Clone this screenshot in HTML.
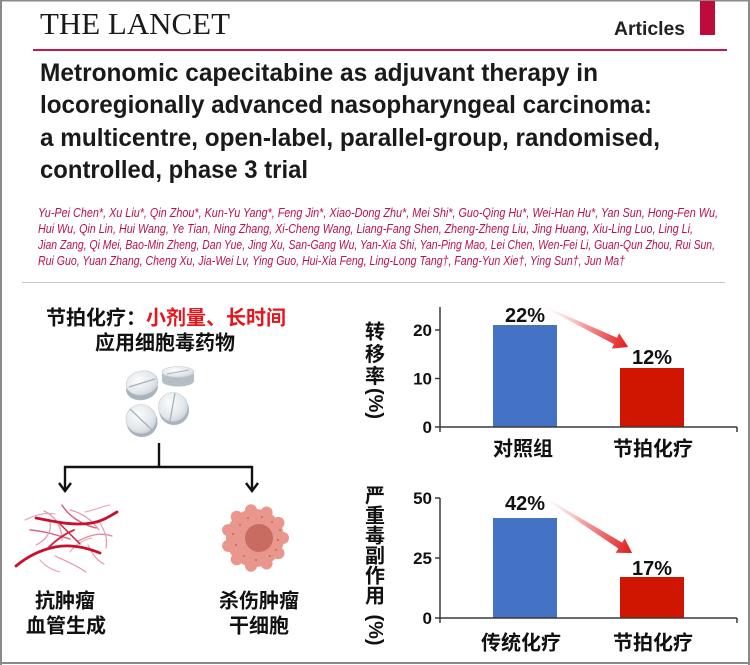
<!DOCTYPE html>
<html>
<head>
<meta charset="utf-8">
<style>
  html,body{margin:0;padding:0;background:#fff;}
  body{width:750px;height:665px;overflow:hidden;}
  svg{display:block;}
  .cjk{font-family:"Liberation Sans","Noto Sans CJK SC",sans-serif;font-weight:bold;}
  .num{font-family:"Liberation Sans",sans-serif;font-weight:bold;}
</style>
</head>
<body>
<svg width="750" height="665" viewBox="0 0 750 665" xmlns="http://www.w3.org/2000/svg">
  <defs>
    <linearGradient id="ag1" gradientUnits="userSpaceOnUse" x1="0" y1="0" x2="90" y2="0">
      <stop offset="0" stop-color="#fde8e8" stop-opacity="0.2"/>
      <stop offset="0.45" stop-color="#f4a0a0"/>
      <stop offset="1" stop-color="#e3191b"/>
    </linearGradient>
    <linearGradient id="ag2" gradientUnits="userSpaceOnUse" x1="0" y1="0" x2="103" y2="0">
      <stop offset="0" stop-color="#fde8e8" stop-opacity="0.2"/>
      <stop offset="0.45" stop-color="#f4a0a0"/>
      <stop offset="1" stop-color="#e3191b"/>
    </linearGradient>
    <radialGradient id="pill" cx="0.4" cy="0.35" r="0.7">
      <stop offset="0" stop-color="#fbfcfd"/>
      <stop offset="0.7" stop-color="#e2e7eb"/>
      <stop offset="1" stop-color="#c9d0d6"/>
    </radialGradient>
  </defs>

  <rect x="0" y="0" width="750" height="665" fill="#fff"/>
  <!-- outer border -->
  <rect x="0" y="0" width="750" height="1.5" fill="#8a8a8a"/>
  <rect x="0" y="0" width="2" height="665" fill="#8a8a8a"/>
  <rect x="748" y="0" width="2" height="665" fill="#8a8a8a"/>
  <rect x="0" y="662" width="750" height="2" fill="#8a8a8a"/>

  <!-- Header -->
  <text x="40" y="34" font-family="Liberation Serif, serif" font-size="31" fill="#1a1a1a" textLength="190" lengthAdjust="spacingAndGlyphs">THE LANCET</text>
  <text x="614" y="35" font-family="Liberation Sans, sans-serif" font-weight="bold" font-size="19" fill="#222" textLength="71" lengthAdjust="spacingAndGlyphs">Articles</text>
  <rect x="700" y="1" width="15" height="34" fill="#bf0a3c"/>
  <rect x="33" y="49" width="694" height="2" fill="#c2184a"/>

  <!-- Title -->
  <g font-family="Liberation Sans, sans-serif" font-weight="bold" font-size="25" fill="#1a1a1a">
    <text x="40" y="81" textLength="558" lengthAdjust="spacingAndGlyphs">Metronomic capecitabine as adjuvant therapy in</text>
    <text x="40" y="113" textLength="612" lengthAdjust="spacingAndGlyphs">locoregionally advanced nasopharyngeal carcinoma:</text>
    <text x="40" y="146" textLength="620" lengthAdjust="spacingAndGlyphs">a multicentre, open-label, parallel-group, randomised,</text>
    <text x="40" y="178" textLength="268" lengthAdjust="spacingAndGlyphs">controlled, phase 3 trial</text>
  </g>

  <!-- Authors -->
  <g font-family="Liberation Sans, sans-serif" font-style="italic" font-size="12.5" fill="#bb1249">
    <text x="38" y="217" textLength="680" lengthAdjust="spacingAndGlyphs">Yu-Pei Chen*, Xu Liu*, Qin Zhou*, Kun-Yu Yang*, Feng Jin*, Xiao-Dong Zhu*, Mei Shi*, Guo-Qing Hu*, Wei-Han Hu*, Yan Sun, Hong-Fen Wu,</text>
    <text x="38" y="233" textLength="655" lengthAdjust="spacingAndGlyphs">Hui Wu, Qin Lin, Hui Wang, Ye Tian, Ning Zhang, Xi-Cheng Wang, Liang-Fang Shen, Zheng-Zheng Liu, Jing Huang, Xiu-Ling Luo, Ling Li,</text>
    <text x="38" y="249" textLength="677" lengthAdjust="spacingAndGlyphs">Jian Zang, Qi Mei, Bao-Min Zheng, Dan Yue, Jing Xu, San-Gang Wu, Yan-Xia Shi, Yan-Ping Mao, Lei Chen, Wen-Fei Li, Guan-Qun Zhou, Rui Sun,</text>
    <text x="38" y="265" textLength="587" lengthAdjust="spacingAndGlyphs">Rui Guo, Yuan Zhang, Cheng Xu, Jia-Wei Lv, Ying Guo, Hui-Xia Feng, Ling-Long Tang†, Fang-Yun Xie†, Ying Sun†, Jun Ma†</text>
  </g>
  <rect x="22" y="282" width="703" height="1" fill="#c8c8c8"/>

  <!-- Left column texts -->
  <text class="cjk" x="166" y="324.5" font-size="20" text-anchor="middle" fill="#111"><tspan>节拍化疗：</tspan><tspan fill="#e8141c">小剂量、长时间</tspan></text>
  <text class="cjk" x="165" y="349.5" font-size="20" text-anchor="middle" fill="#111">应用细胞毒药物</text>

  <!-- Pills -->
  <g>
    <ellipse cx="142" cy="388" rx="16" ry="12" fill="#aab3bb" transform="rotate(-12 142 388)"/>
    <ellipse cx="142" cy="383" rx="16" ry="12" fill="url(#pill)" stroke="#c3cad0" stroke-width="0.6" transform="rotate(-12 142 383)"/>
    <line x1="129" y1="387" x2="155" y2="379" stroke="#a9b2ba" stroke-width="1.3"/>
    <path d="M162,372 L162,381 A16,5.5 0 0 0 194,381 L194,372 Z" fill="#b6bec5"/>
    <ellipse cx="178" cy="372" rx="16" ry="5.5" fill="url(#pill)" stroke="#c3cad0" stroke-width="0.6"/>
    <line x1="167" y1="374" x2="189" y2="370" stroke="#aab3ba" stroke-width="1"/>
    <ellipse cx="174" cy="410" rx="15" ry="15" fill="#a9b2ba"/>
    <ellipse cx="173" cy="407" rx="14.5" ry="14.5" fill="url(#pill)" stroke="#c3cad0" stroke-width="0.6"/>
    <line x1="175" y1="393" x2="170" y2="421" stroke="#a9b2ba" stroke-width="1.3"/>
    <ellipse cx="142" cy="422" rx="15.5" ry="15" fill="#a9b2ba"/>
    <ellipse cx="141" cy="419" rx="15" ry="14.5" fill="url(#pill)" stroke="#c3cad0" stroke-width="0.6"/>
    <line x1="130" y1="409" x2="152" y2="430" stroke="#a9b2ba" stroke-width="1.3"/>
  </g>

  <!-- Tree lines -->
  <g stroke="#111" stroke-width="2.4" fill="none">
    <line x1="159" y1="443" x2="159" y2="467"/>
    <line x1="64" y1="467" x2="253" y2="467"/>
    <line x1="65" y1="466" x2="65" y2="491"/>
    <line x1="252" y1="466" x2="252" y2="491"/>
    <polyline points="59,483 65,491 71,483" stroke-linejoin="miter"/>
    <polyline points="246,483 252,491 258,483" stroke-linejoin="miter"/>
  </g>

  <!-- Blood vessels -->
  <g fill="none" stroke-linecap="round">
    <path d="M44,511 C55,516 62,526 62,540" stroke="#e39aa8" stroke-width="1.3"/>
    <path d="M70,510 C82,513 92,520 99,530" stroke="#e39aa8" stroke-width="1.3"/>
    <path d="M30,530 C44,531 56,535 70,539" stroke="#d66a80" stroke-width="1.4"/>
    <path d="M55,556 C66,561 76,565 86,572" stroke="#e39aa8" stroke-width="1.2"/>
    <path d="M78,541 C90,535 100,532 112,536" stroke="#df8c9c" stroke-width="1.3"/>
    <path d="M62,505 C68,515 80,524 96,528" stroke="#d45d75" stroke-width="1.4"/>
    <path d="M36,545 C46,540 52,532 50,522" stroke="#e39aa8" stroke-width="1.2"/>
    <path d="M88,545 C92,553 96,560 104,564" stroke="#e39aa8" stroke-width="1.2"/>
    <path d="M100,523 C104,530 108,538 106,548" stroke="#e39aa8" stroke-width="1.2"/>
    <path d="M25,520 C35,515 45,512 55,514" stroke="#e7a3b0" stroke-width="1.1"/>
    <path d="M70,552 C75,545 82,540 92,538" stroke="#e7a3b0" stroke-width="1.1"/>
    <path d="M40,560 C45,566 52,570 60,572" stroke="#e7a3b0" stroke-width="1.1"/>
    <path d="M85,512 C95,510 103,506 110,505" stroke="#e7a3b0" stroke-width="1.1"/>
    <path d="M16,566 C28,556 40,550 55,547 C70,544 85,547 100,553" stroke="#c8102e" stroke-width="2.8"/>
    <path d="M36,518 C56,522 74,526 92,523 C103,521 110,516 117,512" stroke="#c8102e" stroke-width="2.8"/>
    <path d="M48,548 C56,540 64,534 74,530" stroke="#cc2442" stroke-width="1.8"/>
    <path d="M60,524 C66,530 72,536 80,544" stroke="#cc2442" stroke-width="1.5"/>
  </g>

  <!-- Cell -->
  <g fill="#e9978d">
    <circle cx="255" cy="538" r="29"/>
    <circle cx="283" cy="538" r="6"/>
    <circle cx="278.5" cy="553.1" r="6"/>
    <circle cx="266.6" cy="563.5" r="6"/>
    <circle cx="251" cy="565.7" r="6"/>
    <circle cx="236.7" cy="559.2" r="6"/>
    <circle cx="228.1" cy="545.9" r="6"/>
    <circle cx="228.1" cy="530.1" r="6"/>
    <circle cx="236.7" cy="516.8" r="6"/>
    <circle cx="251" cy="510.3" r="6"/>
    <circle cx="266.6" cy="512.5" r="6"/>
    <circle cx="278.5" cy="522.9" r="6"/>
  </g>
  <circle cx="259" cy="538" r="14" fill="#c86b60"/>
  <g fill="#b45a52">
    <circle cx="240" cy="525" r="0.9"/><circle cx="248" cy="518" r="0.9"/><circle cx="272" cy="522" r="0.9"/>
    <circle cx="236" cy="545" r="0.9"/><circle cx="244" cy="556" r="0.9"/><circle cx="270" cy="556" r="0.9"/>
    <circle cx="278" cy="540" r="0.9"/><circle cx="262" cy="517" r="0.9"/><circle cx="256" cy="560" r="0.9"/>
    <circle cx="233" cy="534" r="0.9"/><circle cx="280" cy="530" r="0.9"/><circle cx="276" cy="550" r="0.9"/>
  </g>

  <!-- Left labels -->
  <g class="cjk" font-size="20" fill="#111" text-anchor="middle">
    <text x="65" y="607.5">抗肿瘤</text>
    <text x="66" y="632.5">血管生成</text>
    <text x="259" y="607.5">杀伤肿瘤</text>
    <text x="259" y="632.5">干细胞</text>
  </g>

  <!-- Chart 1 -->
  <rect x="493" y="325" width="64" height="102" fill="#4472c4"/>
  <rect x="620" y="368" width="64" height="59" fill="#d01500"/>
  <g stroke="#3a3a3a" stroke-width="1.5" fill="none">
    <line x1="440" y1="307" x2="440" y2="432"/>
    <line x1="440" y1="427" x2="737" y2="427"/>
    <line x1="737" y1="427" x2="737" y2="432"/>
    <line x1="435" y1="330" x2="440" y2="330"/>
    <line x1="435" y1="378.5" x2="440" y2="378.5"/>
    <line x1="435" y1="427" x2="440" y2="427"/>
  </g>
  <g class="num" font-size="17" fill="#111" text-anchor="end">
    <text x="432" y="336">20</text>
    <text x="432" y="384.5">10</text>
    <text x="432" y="433">0</text>
  </g>
  <g class="num" font-size="20" fill="#111" text-anchor="middle">
    <text x="525" y="322">22%</text>
    <text x="652" y="364">12%</text>
  </g>
  <g transform="translate(547,308) rotate(25.7)">
    <path d="M0,-0.8 L76,-3.5 L76,-8.5 L90,0 L76,8.5 L76,3.5 L0,0.8 Z" fill="url(#ag1)"/>
  </g>
  <g class="cjk" font-size="20" fill="#111" text-anchor="middle">
    <text x="523" y="455.5">对照组</text>
    <text x="653" y="455.5">节拍化疗</text>
  </g>
  <g class="cjk" font-size="20" fill="#111" text-anchor="middle">
    <text x="375" y="338.5">转</text>
    <text x="375" y="361">移</text>
    <text x="375" y="383">率</text>
    <text class="num" x="0" y="0" font-size="20" dominant-baseline="central" transform="translate(375,403.5) rotate(90)">(%)</text>
  </g>

  <!-- Chart 2 -->
  <rect x="493" y="518" width="64" height="100" fill="#4472c4"/>
  <rect x="620" y="577" width="64" height="41" fill="#d01500"/>
  <g stroke="#3a3a3a" stroke-width="1.5" fill="none">
    <line x1="440" y1="498" x2="440" y2="623"/>
    <line x1="440" y1="618" x2="737" y2="618"/>
    <line x1="737" y1="618" x2="737" y2="623"/>
    <line x1="435" y1="498" x2="440" y2="498"/>
    <line x1="435" y1="558" x2="440" y2="558"/>
    <line x1="435" y1="618" x2="440" y2="618"/>
  </g>
  <g class="num" font-size="17" fill="#111" text-anchor="end">
    <text x="432" y="504">50</text>
    <text x="432" y="564">25</text>
    <text x="432" y="624">0</text>
  </g>
  <g class="num" font-size="20" fill="#111" text-anchor="middle">
    <text x="525" y="510">42%</text>
    <text x="652" y="575">17%</text>
  </g>
  <g transform="translate(545,498) rotate(32.3)">
    <path d="M0,-0.8 L89,-3.5 L89,-8.5 L103,0 L89,8.5 L89,3.5 L0,0.8 Z" fill="url(#ag2)"/>
  </g>
  <g class="cjk" font-size="20" fill="#111" text-anchor="middle">
    <text x="521" y="649.5">传统化疗</text>
    <text x="653" y="649.5">节拍化疗</text>
  </g>
  <g class="cjk" font-size="20" fill="#111" text-anchor="middle">
    <text x="375" y="502.5">严</text>
    <text x="375" y="522.5">重</text>
    <text x="375" y="542.5">毒</text>
    <text x="375" y="562.5">副</text>
    <text x="375" y="582.5">作</text>
    <text x="375" y="602.5">用</text>
    <text class="num" x="0" y="0" font-size="20" dominant-baseline="central" transform="translate(375,630) rotate(90)">(%)</text>
  </g>
</svg>
</body>
</html>
